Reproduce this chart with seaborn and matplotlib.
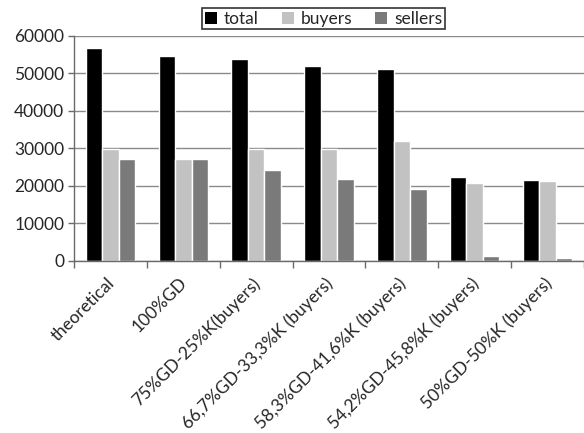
import matplotlib
matplotlib.use("Agg")
import matplotlib.pyplot as plt
import matplotlib.transforms as mtransforms
import seaborn as sns
import pandas as pd
import numpy as np
from matplotlib.patches import Patch

categories = ["theoretical", "100%GD", "75%GD-25%K(buyers)", "66,7%GD-33,3%K (buyers)",
              "58,3%GD-41,6%K (buyers)", "54,2%GD-45,8%K (buyers)", "50%GD-50%K (buyers)"]
total = [56800, 54600, 53800, 51900, 51100, 22300, 21500]
buyers = [29700, 27100, 29700, 29700, 32000, 20800, 21200]
sellers = [27100, 27100, 24300, 21900, 19000, 1300, 600]
series = ["total", "buyers", "sellers"]
colors = ["#000000", "#c2c2c2", "#7a7a7a"]

df = pd.DataFrame({
    "category": categories * 3,
    "series": [s for s in series for _ in categories],
    "value": total + buyers + sellers,
})

sns.set_style("white")
plt.rcParams["font.family"] = ["Lato", "DejaVu Sans"]

fig = plt.figure(figsize=(5.84, 4.33), dpi=100)
ax = fig.add_axes([74/584, 1-260.7/433, 1-74/584, (260.7-35.7)/433])

sns.barplot(data=df, x="category", y="value", hue="series", order=categories,
            hue_order=series, palette=colors, saturation=1, width=0.68, gap=0,
            ax=ax, legend=False)

ax.set_xlim(-0.5, 6.47)
ax.set_ylim(0, 60000)
ax.set_yticks(np.arange(0, 60001, 10000))
ax.yaxis.grid(True, color="#8a8a8a", linewidth=1)
ax.set_axisbelow(True)
ax.set_xlabel("")
ax.set_ylabel("")
for s in ["top", "right"]:
    ax.spines[s].set_visible(False)
for s in ["left", "bottom"]:
    ax.spines[s].set_color("#6a6a6a")
    ax.spines[s].set_linewidth(1)

ax.set_xticks(np.arange(len(categories)))
ax.set_xticklabels(categories, rotation=45, ha="right", rotation_mode="anchor", fontsize=12.5)
ax.set_xticks(np.arange(len(categories) + 1) - 0.5, minor=True)
ax.xaxis.set_tick_params(which="both", bottom=True)
ax.yaxis.set_tick_params(which="both", left=True)
ax.tick_params(axis="x", which="major", length=0, pad=10)
ax.tick_params(axis="x", which="minor", length=5, width=1, direction="out", color="#6a6a6a")
ax.tick_params(axis="y", length=4, width=1, direction="out", color="#6a6a6a", labelsize=12.5, pad=3)
offset = mtransforms.ScaledTranslation(-4/100, 0, fig.dpi_scale_trans)
for lbl in ax.get_xticklabels():
    lbl.set_transform(lbl.get_transform() + offset)

handles = [Patch(facecolor=c, edgecolor="none") for c in colors]
leg = fig.legend(handles, series, loc="center", bbox_to_anchor=(323.5/584, 1-18.7/433), ncol=3,
                 frameon=True, fancybox=False, edgecolor="black", fontsize=12.5,
                 handlelength=0.7, handleheight=0.7, handletextpad=0.4, columnspacing=1.3,
                 borderpad=0.15, borderaxespad=0)
leg.get_frame().set_linewidth(1.2)

fig.savefig("out.png", dpi=100)
